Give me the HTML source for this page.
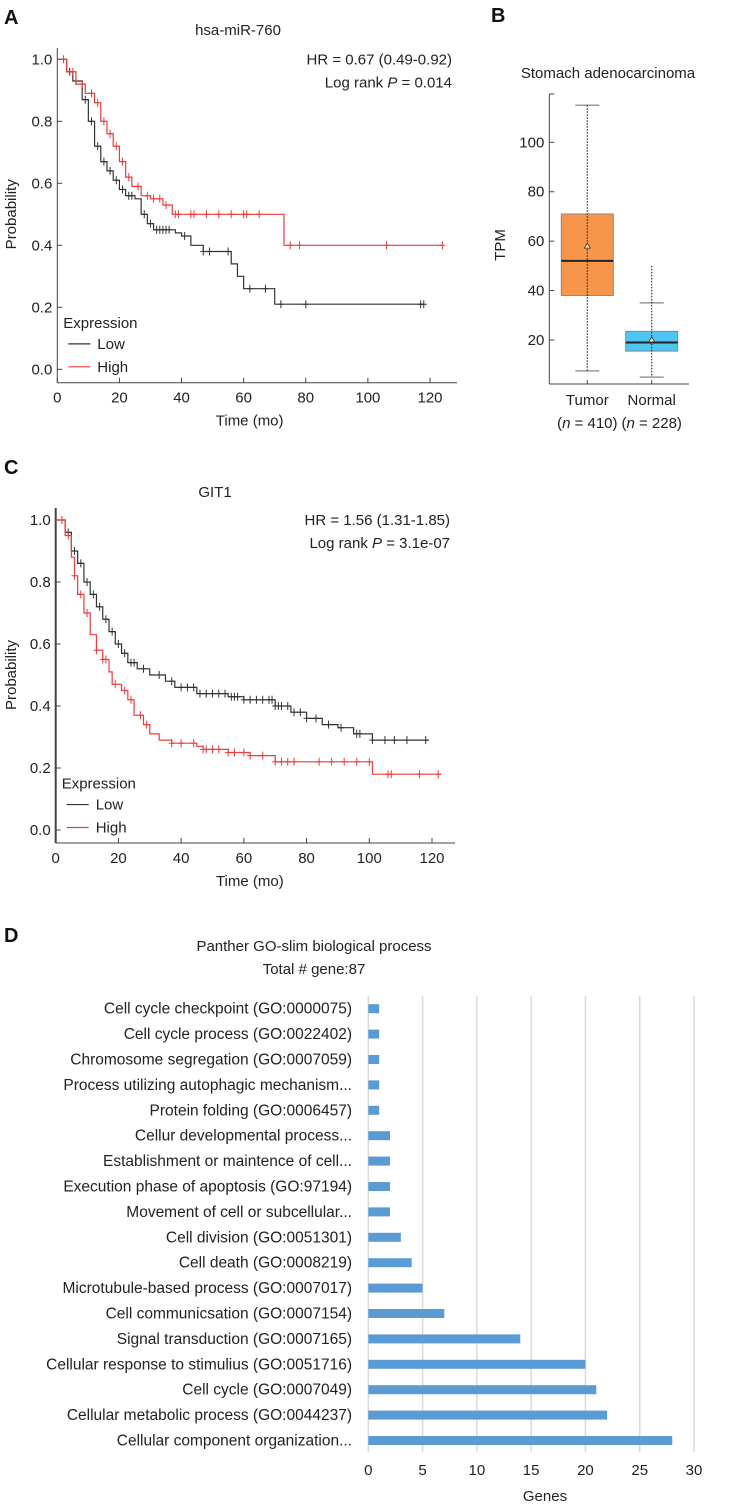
<!DOCTYPE html>
<html><head><meta charset="utf-8"><style>
html,body{margin:0;padding:0;background:#fff;}
svg{display:block;font-family:"Liberation Sans","DejaVu Sans",sans-serif;}
</style></head><body>
<svg id="fig" width="729" height="1507" viewBox="0 0 729 1507" xmlns="http://www.w3.org/2000/svg"></svg>
<script>
// ---------- DATA ----------
const kmTicksX = [0,20,40,60,80,100,120];
const kmTicksY = [0.0,0.2,0.4,0.6,0.8,1.0];
// Panel A
const aLowT  = [0,3,5,8,10,12,14,16,18,20,22,25,27,29,31,38,40,43,47,56,58,60,70,118];
const aLowP  = [1.0,0.96,0.93,0.87,0.80,0.72,0.67,0.64,0.61,0.58,0.56,0.55,0.50,0.47,0.45,0.44,0.43,0.40,0.38,0.34,0.30,0.26,0.21,0.21];
const aLowCens = [4,6,9,11,13,15,17,19,21,23,24,28,30,32,33,34,35,36,41,47,49,55,62,67,72,80,117,118];
const aHighT = [0,3,6,9,12,14,16,18,20,22,24,27,30,34,37,73,124];
const aHighP = [1.0,0.96,0.92,0.89,0.86,0.80,0.76,0.72,0.67,0.62,0.59,0.56,0.55,0.53,0.50,0.40,0.40];
const aHighCens = [2,5,8,11,13,15,17,19,21,23,26,29,31,33,35,38,39,43,44,48,52,56,60,61,65,75,78,106,124];
// Panel C
const cLowT  = [0,3,5,7,9,11,13,15,17,19,21,23,26,30,35,38,45,55,60,70,75,80,85,90,95,101,119];
const cLowP  = [1.0,0.96,0.90,0.86,0.80,0.76,0.72,0.68,0.64,0.60,0.57,0.54,0.52,0.50,0.48,0.46,0.44,0.43,0.42,0.40,0.38,0.36,0.34,0.33,0.31,0.29,0.29];
const cLowCens = [2,4,6,8,10,12,14,16,18,20,22,24,25,28,33,37,40,42,44,46,48,50,52,54,56,57,58,60,62,64,66,68,69,70,71,72,74,76,78,80,83,87,91,96,97,101,105,108,112,118];
const cHighT = [0,3,5,6,7,9,11,13,15,17,18,21,23,25,28,30,33,37,45,47,55,62,70,101,123];
const cHighP = [1.0,0.95,0.88,0.82,0.76,0.70,0.63,0.58,0.55,0.51,0.47,0.45,0.42,0.37,0.34,0.31,0.29,0.28,0.27,0.26,0.25,0.24,0.22,0.18,0.18];
const cHighCens = [2,4,6,8,10,13,15,16,19,22,24,27,29,37,40,44,47,48,50,52,55,57,60,62,66,70,72,74,76,84,88,92,96,100,106,107,116,122];
// Panel B
const boxGroups = ["Tumor","Normal"];
const boxN = [410,228];
const boxMin = [7.5,5];
const boxQ1 = [38,15.5];
const boxMed = [52,19];
const boxQ3 = [71,23.5];
const boxMax = [115,35];
const boxMean = [58,20];
const boxOutHigh = [115,50];
const boxTicks = [20,40,60,80,100];
// Panel D
const goLabels = ["Cell cycle checkpoint (GO:0000075)","Cell cycle process (GO:0022402)","Chromosome segregation (GO:0007059)","Process utilizing autophagic mechanism...","Protein folding (GO:0006457)","Cellur developmental process...","Establishment or maintence of cell...","Execution phase of apoptosis (GO:97194)","Movement of cell or subcellular...","Cell division (GO:0051301)","Cell death (GO:0008219)","Microtubule-based process (GO:0007017)","Cell communicsation (GO:0007154)","Signal transduction (GO:0007165)","Cellular response to stimulius (GO:0051716)","Cell cycle (GO:0007049)","Cellular metabolic process (GO:0044237)","Cellular component organization..."];
const goValues = [1,1,1,1,1,2,2,2,2,3,4,5,7,14,20,21,22,28];
const goTicks = [0,5,10,15,20,25,30];

// ---------- HELPERS ----------
const NS="http://www.w3.org/2000/svg";
const svg=document.getElementById('fig');
function mk(tag,attrs,parent,txt){const e=document.createElementNS(NS,tag);for(const k in attrs)e.setAttribute(k,attrs[k]);if(txt!==undefined)e.textContent=txt;(parent||svg).appendChild(e);return e;}
function label(x,y,txt,size,anchor,extra){const t=mk('text',Object.assign({x:x,y:y,'font-size':size,'text-anchor':anchor||'middle',fill:'#222'},extra||{}),svg,txt);return t;}

// ---------- PANEL LETTERS ----------
[["A",4,24],["B",491,22],["C",4,474],["D",4,942]].forEach(function(d){
  const t=label(d[1],d[2],d[0],20,'start',{'font-weight':'bold',fill:'#111'});
  
  
});

// ---------- KM PLOT ----------
function km(cfg){
  const g=mk('g',{},svg);
  
  
  const sx=t=>cfg.x0+t*(cfg.x120-cfg.x0)/120;
  const sy=p=>cfg.y0-p*(cfg.y0-cfg.y1);
  const ya=mk('line',{x1:cfg.x0,y1:cfg.axTop,x2:cfg.x0,y2:cfg.axY,stroke:'#444','stroke-width':cfg.thickY||1},g);
  
  const xa=mk('line',{x1:cfg.x0,y1:cfg.axY,x2:cfg.axRight,y2:cfg.axY,stroke:'#444','stroke-width':1},g);
  
  kmTicksX.forEach(function(v){
    mk('line',{x1:sx(v),y1:cfg.axY,x2:sx(v),y2:cfg.axY-5,stroke:'#444'},g);
    const t=mk('text',{x:sx(v),y:cfg.axY+20,'font-size':15,'text-anchor':'middle',fill:'#222'},g,String(v));
    
  });
  kmTicksY.forEach(function(v){
    mk('line',{x1:cfg.x0,y1:sy(v),x2:cfg.x0+5,y2:sy(v),stroke:'#444'},g);
    const t=mk('text',{x:cfg.x0-5,y:sy(v)+5,'font-size':15,'text-anchor':'end',fill:'#222'},g,v.toFixed(1));
    
  });
  const xt=mk('text',{x:cfg.x0+(cfg.x120-cfg.x0)/2+6,y:cfg.axY+43,'font-size':15,'text-anchor':'middle',fill:'#222'},g,'Time (mo)');
  
  const ytt=mk('text',{x:0,y:0,'font-size':15,'text-anchor':'middle',fill:'#222',transform:'translate(16,'+((cfg.y0+cfg.y1)/2)+') rotate(-90)'},g,'Probability');
  
  const tt=mk('text',{x:cfg.titleX,y:cfg.titleY,'font-size':15,'text-anchor':'middle',fill:'#222'},g,cfg.title);
  
  const hr=mk('text',{x:cfg.statX,y:cfg.y1+5,'font-size':15,'text-anchor':'end',fill:'#222'},g,cfg.hr);
  
  const lr=mk('text',{x:cfg.statX,y:cfg.y1+28,'font-size':15,'text-anchor':'end',fill:'#222'},g);
  
  mk('tspan',{},lr,'Log rank ');mk('tspan',{'font-style':'italic'},lr,'P');mk('tspan',{},lr,' = '+cfg.p);
  function curve(T,P,C,color,nm){
    let d='M'+sx(T[0])+','+sy(P[0]);
    for(let i=1;i<T.length;i++){d+=' H'+sx(T[i])+' V'+sy(P[i]);}
    const path=mk('path',{d:d,fill:'none',stroke:color,'stroke-width':1.2},g);
    
    C.forEach(function(c){
      let p=P[0];for(let i=0;i<T.length;i++){if(T[i]<=c)p=P[i];}
      const m=mk('path',{d:'M'+sx(c)+','+(sy(p)-4)+' V'+(sy(p)+4)+' M'+(sx(c)-3)+','+sy(p)+' H'+(sx(c)+3),stroke:color,'stroke-width':1},g);
      
    });
  }
  curve(cfg.lowT,cfg.lowP,cfg.lowC,'#333','low-expression');
  curve(cfg.highT,cfg.highP,cfg.highC,'#ee3b3b','high-expression');
  const lg=mk('g',{},g);
  
  mk('text',{x:cfg.x0+6,y:sy(0.15)+5,'font-size':15,fill:'#222'},lg,'Expression');
  const e1=mk('g',{},lg);
  mk('line',{x1:cfg.x0+11,x2:cfg.x0+33,y1:sy(0.082),y2:sy(0.082),stroke:'#333','stroke-width':1.2},e1);
  mk('text',{x:cfg.x0+40,y:sy(0.082)+5,'font-size':15,fill:'#222'},e1,'Low');
  const e2=mk('g',{},lg);
  mk('line',{x1:cfg.x0+11,x2:cfg.x0+33,y1:sy(0.008),y2:sy(0.008),stroke:'#ee3b3b','stroke-width':1.2},e2);
  mk('text',{x:cfg.x0+40,y:sy(0.008)+5,'font-size':15,fill:'#222'},e2,'High');
}
km({name:'km-plot-mir760',x0:57.3,x120:430,y0:369.3,y1:59.3,axTop:48,axY:382.7,axRight:457,title:'hsa-miR-760',titleX:238,titleY:35,statX:452,hr:'HR = 0.67 (0.49-0.92)',p:'0.014',
  lowT:aLowT,lowP:aLowP,lowC:aLowCens,highT:aHighT,highP:aHighP,highC:aHighCens});
km({name:'km-plot-git1',x0:55.7,x120:432,y0:830,y1:520,axTop:508,axY:843,axRight:455,thickY:2,title:'GIT1',titleX:215,titleY:497,statX:450,hr:'HR = 1.56 (1.31-1.85)',p:'3.1e-07',
  lowT:cLowT,lowP:cLowP,lowC:cLowCens,highT:cHighT,highP:cHighP,highC:cHighCens});

// ---------- BOX PLOT ----------
(function(){
  const g=mk('g',{},svg);
  
  const sy=v=>340-(v-20)*2.471;
  const cx=[587.3,651.7], hw=[26,26], colors=['#f7964b','#4ec6f2'];
  const ax=549.3;
  mk('line',{x1:ax,y1:94,x2:ax,y2:384,stroke:'#444'},g);
  mk('line',{x1:ax,y1:94,x2:ax+5,y2:94,stroke:'#444'},g);
  mk('line',{x1:ax,y1:384,x2:689,y2:384,stroke:'#444'},g);
  boxTicks.forEach(function(v){
    mk('line',{x1:ax,y1:sy(v),x2:ax+5,y2:sy(v),stroke:'#444'},g);
    const t=mk('text',{x:ax-5,y:sy(v)+5,'font-size':15,'text-anchor':'end',fill:'#222'},g,String(v));
    
  });
  const yt=mk('text',{x:0,y:0,'font-size':15,'text-anchor':'middle',fill:'#222',transform:'translate(505,245) rotate(-90)'},g,'TPM');
  
  const tt=mk('text',{x:608,y:78,'font-size':15,'text-anchor':'middle',fill:'#222'},g,'Stomach adenocarcinoma');
  
  boxGroups.forEach(function(name,i){
    const bg=mk('g',{},g);
    
    const x=cx[i];
    mk('line',{x1:x,y1:384,x2:x,y2:380,stroke:'#444'},bg);
    mk('line',{x1:x-12,x2:x+12,y1:sy(boxMax[i]),y2:sy(boxMax[i]),stroke:'#999','stroke-width':1.5},bg);
    mk('line',{x1:x-12,x2:x+12,y1:sy(boxMin[i]),y2:sy(boxMin[i]),stroke:'#999','stroke-width':1.5},bg);
    mk('rect',{x:x-hw[i],y:sy(boxQ3[i]),width:hw[i]*2,height:sy(boxQ1[i])-sy(boxQ3[i]),fill:colors[i],stroke:'#888','stroke-width':1},bg);
    mk('line',{x1:x,x2:x,y1:sy(boxOutHigh[i]),y2:sy(boxMin[i]),stroke:'#333','stroke-width':1.2,'stroke-dasharray':'1.5 1.5'},bg);
    mk('line',{x1:x-hw[i],x2:x+hw[i],y1:sy(boxMed[i]),y2:sy(boxMed[i]),stroke:'#222','stroke-width':2},bg);
    const my=sy(boxMean[i]);
    mk('path',{d:'M'+x+','+(my-3)+' L'+(x+3)+','+(my+2)+' L'+(x-3)+','+(my+2)+' Z',fill:'#ffe8a0',stroke:'#333','stroke-width':0.8},bg);
    const l1=mk('text',{x:x,y:405,'font-size':15,'text-anchor':'middle',fill:'#222'},bg,name);
    
    const l2=mk('text',{x:x,y:428,'font-size':15,'text-anchor':'middle',fill:'#222'},bg);
    
    mk('tspan',{},l2,'(');mk('tspan',{'font-style':'italic'},l2,'n');mk('tspan',{},l2,' = '+boxN[i]+')');
  });
})();

// ---------- BAR CHART ----------
(function(){
  const g=mk('g',{},svg);
  
  const sx=v=>368.3+v*(694-368.3)/30;
  const rowY=i=>1008.7+i*25.4;
  const t1=mk('text',{x:314,y:951,'font-size':15,'text-anchor':'middle',fill:'#222'},g,'Panther GO-slim biological process');
  
  const t2=mk('text',{x:314,y:974,'font-size':15,'text-anchor':'middle',fill:'#222'},g,'Total # gene:87');
  
  goTicks.forEach(function(v){
    mk('line',{x1:sx(v),x2:sx(v),y1:996,y2:1452,stroke:'#d9d9d9','stroke-width':1.5},g);
    const t=mk('text',{x:sx(v),y:1475,'font-size':15,'text-anchor':'middle',fill:'#222'},g,String(v));
    
  });
  const xt=mk('text',{x:545,y:1501,'font-size':15,'text-anchor':'middle',fill:'#222'},g,'Genes');
  
  goLabels.forEach(function(lb,i){
    const y=rowY(i);
    const t=mk('text',{x:352,y:y+5,'font-size':15.5,'text-anchor':'end',fill:'#222'},g,lb);
    
    const b=mk('rect',{x:sx(0),y:y-4.5,width:sx(goValues[i])-sx(0),height:9,fill:'#5b9bd5'},g);
    
  });
})();
</script>
</body></html>
